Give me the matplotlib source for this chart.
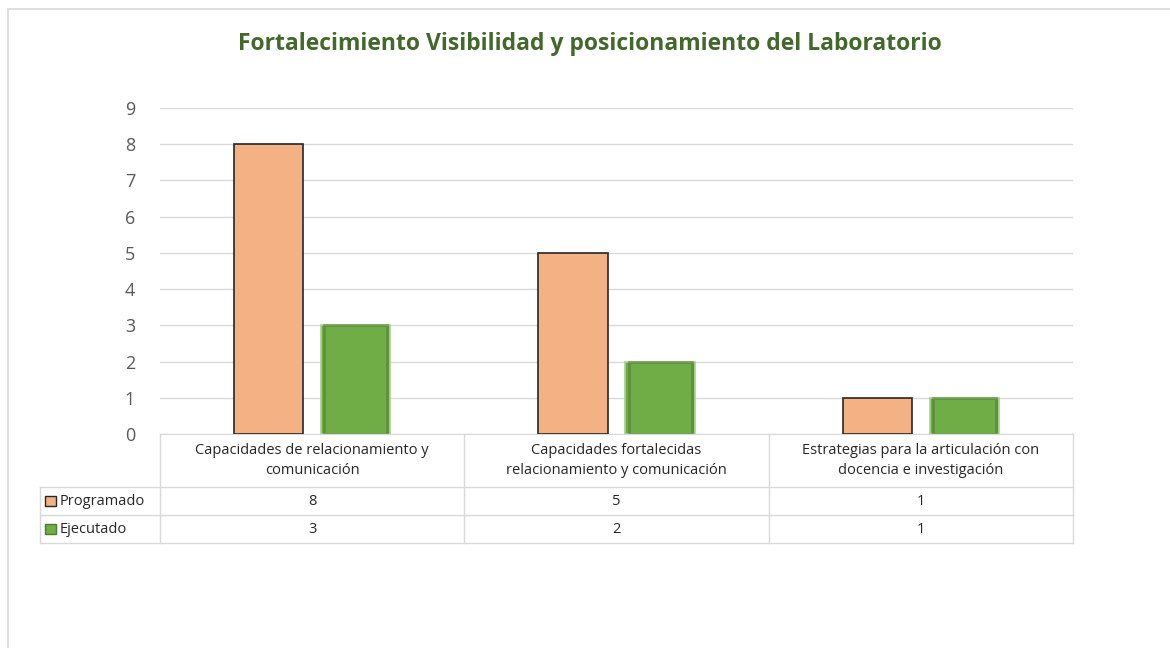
import matplotlib.pyplot as plt
from matplotlib.patches import Rectangle
import numpy as np

plt.rcParams["font.family"] = ["Open Sans", "DejaVu Sans"]

categorias = [
    "Capacidades de relacionamiento y\ncomunicación",
    "Capacidades fortalecidas\nrelacionamiento y comunicación",
    "Estrategias para la articulación con\ndocencia e investigación",
]
series = ["Programado", "Ejecutado"]
programado = [8, 5, 1]
ejecutado = [3, 2, 1]

color_prog = "#F4B183"
color_ejec = "#70AD47"
gris_linea = "#D9D9D9"
gris_texto = "#595959"

fig = plt.figure(figsize=(11.7, 6.48), dpi=100)
# marco del grafico
fig.patches.append(Rectangle((8 / 1170, -0.1), 1.2, 1.1 - 9 / 648, transform=fig.transFigure,
                             fill=False, edgecolor="#D9D9D9", linewidth=1.2))

ax = fig.add_axes([160 / 1170, 1 - 434 / 648, 913 / 1170, 326 / 648])

x = np.arange(len(categorias))
ancho = 0.227
ax.bar(x - 0.143, programado, ancho, color=color_prog, edgecolor="#262626", linewidth=1.2, zorder=3)
ax.bar(x + 0.143, ejecutado, ancho, color=color_ejec, edgecolor="#A9D18E", linewidth=1.2, zorder=3)
# sombreado interior de las barras verdes
ax.bar(x + 0.143, ejecutado, ancho - 0.02, color="none", edgecolor="#4E7A31", linewidth=2.0,
       alpha=0.55, zorder=4)

ax.set_xlim(-0.5, len(categorias) - 0.5)
ax.set_ylim(0, 9)
ax.set_yticks(range(0, 10))
ax.set_xticks([])
ax.tick_params(axis="y", length=0, pad=18, labelsize=13, labelcolor=gris_texto)
ax.grid(axis="y", color=gris_linea, linewidth=1, zorder=0)
for s in ["top", "right", "left"]:
    ax.spines[s].set_visible(False)
ax.spines["bottom"].set_color(gris_linea)

fig.text(590 / 1170, 1 - 44 / 648, "Fortalecimiento Visibilidad y posicionamiento del Laboratorio",
         ha="center", va="center", fontsize=16.5, fontweight="bold", color="#43682B")

# tabla de datos debajo del eje
trans = ax.get_xaxis_transform()
y_head = -0.1626
y_r1 = -0.2485
y_r2 = -0.3344
x_izq = -0.5 - 120 / 304.3
bordes = [-0.5 + i for i in range(len(categorias) + 1)]
fs = 10.5

kw = dict(transform=trans, color=gris_linea, linewidth=1, clip_on=False)
for b in bordes:
    ax.plot([b, b], [0, y_r2], **kw)
ax.plot([x_izq, x_izq], [y_head, y_r2], **kw)
for yy in [y_head, y_r1, y_r2]:
    ax.plot([x_izq, bordes[-1]], [yy, yy], **kw)

for i, cat in enumerate(categorias):
    ax.text(x[i], y_head / 2, cat, transform=trans, ha="center", va="center",
            fontsize=fs, color="#262626", linespacing=1.45)
    ax.text(x[i], (y_head + y_r1) / 2, str(programado[i]), transform=trans,
            ha="center", va="center", fontsize=fs, color="#262626")
    ax.text(x[i], (y_r1 + y_r2) / 2, str(ejecutado[i]), transform=trans,
            ha="center", va="center", fontsize=fs, color="#262626")

colores = [(color_prog, "#262626"), (color_ejec, "#4E7A31")]
filas = [(y_head + y_r1) / 2, (y_r1 + y_r2) / 2]
for nombre, (fc, ec), yc in zip(series, colores, filas):
    ax.add_patch(Rectangle((x_izq + 0.017, yc - 0.014), 0.035, 0.028, transform=trans,
                           facecolor=fc, edgecolor=ec, linewidth=1, clip_on=False))
    ax.text(x_izq + 0.065, yc, nombre, transform=trans, ha="left", va="center",
            fontsize=fs, color="#262626")

fig.savefig("out.png", dpi=100)
